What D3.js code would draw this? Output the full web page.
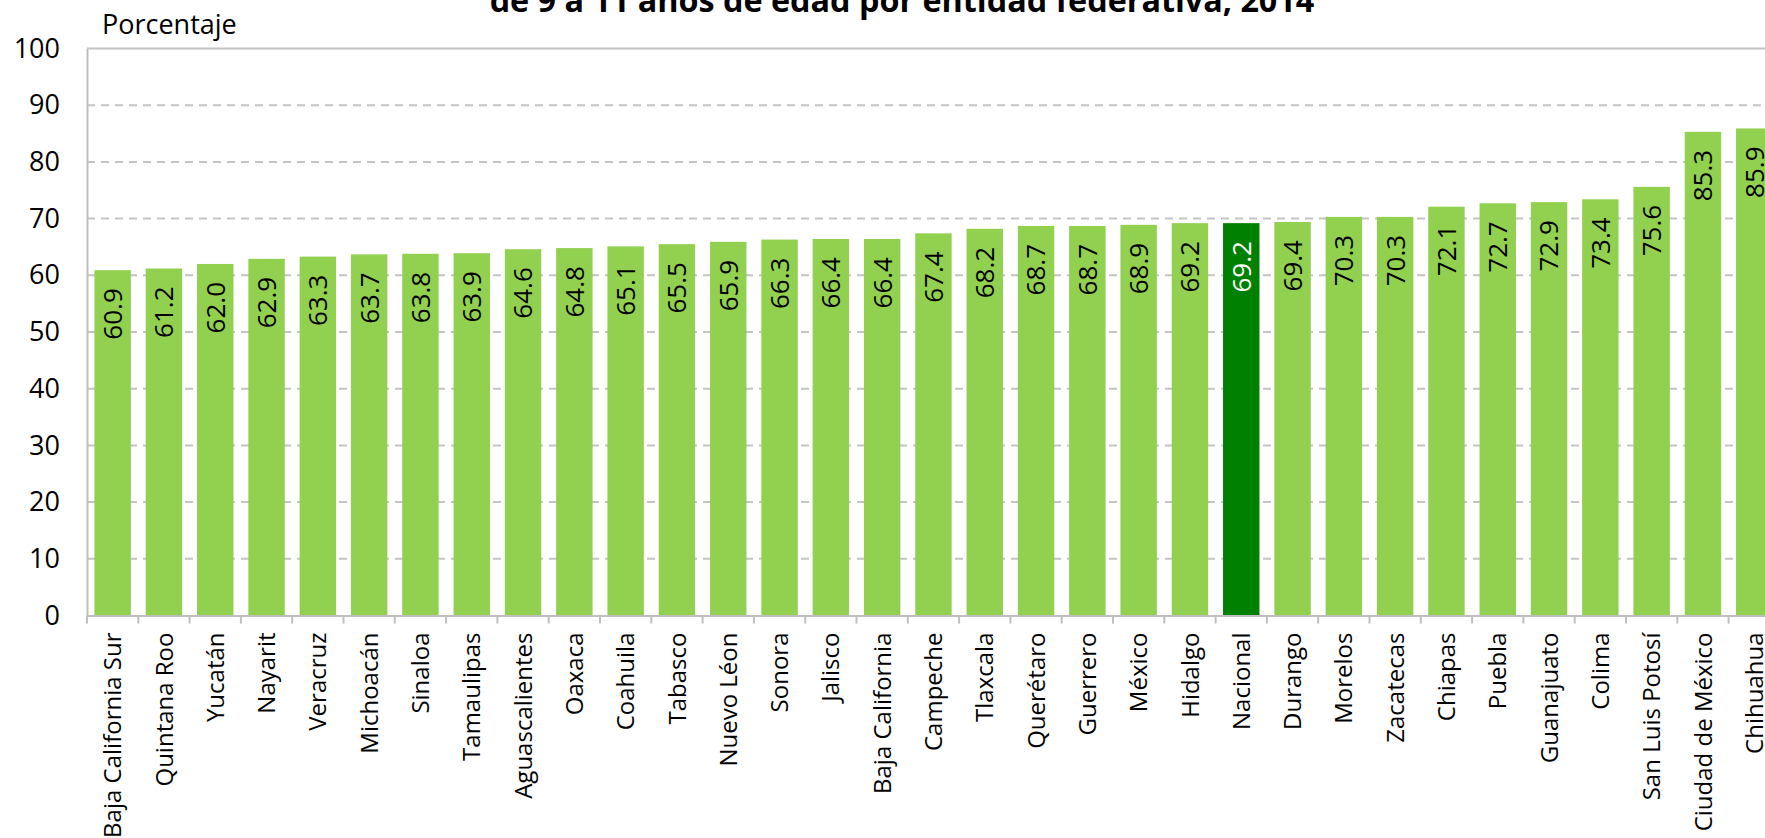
<!DOCTYPE html>
<html>
<head>
<meta charset="utf-8">
<script src="https://cdn.jsdelivr.net/npm/d3@7"></script>
<style>
  html, body { margin: 0; padding: 0; background: #ffffff; overflow: hidden; }
  svg { display: block; }
</style>
</head>
<body>
<svg id="chart" width="1765" height="838"></svg>
<script>
const categories = ["Baja California Sur","Quintana Roo","Yucatán","Nayarit","Veracruz","Michoacán","Sinaloa","Tamaulipas","Aguascalientes","Oaxaca","Coahuila","Tabasco","Nuevo Léon","Sonora","Jalisco","Baja California","Campeche","Tlaxcala","Querétaro","Guerrero","México","Hidalgo","Nacional","Durango","Morelos","Zacatecas","Chiapas","Puebla","Guanajuato","Colima","San Luis Potosí","Ciudad de México","Chihuahua"];
const values = [60.9,61.2,62.0,62.9,63.3,63.7,63.8,63.9,64.6,64.8,65.1,65.5,65.9,66.3,66.4,66.4,67.4,68.2,68.7,68.7,68.9,69.2,69.2,69.4,70.3,70.3,72.1,72.7,72.9,73.4,75.6,85.3,85.9];
const highlight = ["Nacional"];
const yTicks = [0,10,20,30,40,50,60,70,80,90,100];
const titleText = "de 9 a 11 años de edad por entidad federativa, 2014";
const yAxisTitle = "Porcentaje";

const data = categories.map((c, i) => ({ cat: c, val: values[i] }));

const svg = d3.select("#chart");
const font = "'Open Sans', 'DejaVu Sans', sans-serif";

const left = 87, bandStep = 51.3;
const x = d3.scaleBand()
  .domain(categories)
  .range([left, left + bandStep * categories.length])
  .paddingInner(0.29)
  .paddingOuter(0.145);
const y = d3.scaleLinear().domain([0, 100]).range([615.5, 48.5]);

// Gridlines
const plotRight = left + bandStep * categories.length;
svg.append("g").selectAll("line")
  .data(yTicks.filter(t => t > 0))
  .join("line")
  .attr("x1", left).attr("x2", plotRight)
  .attr("y1", d => y(d)).attr("y2", d => y(d))
  .attr("stroke", "#c4c4c4")
  .attr("stroke-width", 2)
  .attr("stroke-dasharray", d => d === 100 ? null : "8,6");

// Bars
svg.append("g").selectAll("rect")
  .data(data)
  .join("rect")
  .attr("x", d => x(d.cat))
  .attr("width", x.bandwidth())
  .attr("y", d => y(d.val))
  .attr("height", d => y(0) - y(d.val))
  .attr("fill", d => highlight.includes(d.cat) ? "#008000" : "#92d050");

// Value labels
svg.append("g").selectAll("text")
  .data(data)
  .join("text")
  .attr("transform", d => `translate(${x(d.cat) + x.bandwidth() / 2},${y(d.val) + 18}) rotate(-90)`)
  .attr("text-anchor", "end")
  .attr("dy", "0.36em")
  .style("font-family", font)
  .style("font-size", "26px")
  .attr("fill", d => highlight.includes(d.cat) ? "#ffffff" : "#000000")
  .text(d => d.val.toFixed(1));

// Y axis
const yAxis = d3.axisLeft(y).tickValues(yTicks).tickSize(0).tickPadding(27);
const gy = svg.append("g").attr("transform", `translate(${left},0)`).call(yAxis);
gy.select(".domain").attr("stroke", "#bfbfbf").attr("stroke-width", 2);
gy.selectAll("text").style("font-family", font).style("font-size", "27px").attr("fill", "#000");

// X axis
const xAxis = d3.axisBottom(x).tickSize(0).tickPadding(0).tickSizeOuter(0);
const gx = svg.append("g").attr("transform", `translate(0,${y(0)})`).call(xAxis);
gx.select(".domain").attr("stroke", "#bfbfbf").attr("stroke-width", 2);
gx.selectAll(".tick text")
  .attr("transform", "translate(0,17) rotate(-90)")
  .attr("text-anchor", "end")
  .attr("x", 0).attr("y", 0)
  .attr("dy", "0.36em")
  .style("font-family", font)
  .style("font-size", "24px")
  .attr("fill", "#000");
// Separator ticks between categories
const sepPositions = d3.range(categories.length + 1).map(i => x.range()[0] + i * x.step());
gx.append("g").selectAll("line")
  .data(sepPositions)
  .join("line")
  .attr("x1", d => d).attr("x2", d => d)
  .attr("y1", 0).attr("y2", 8)
  .attr("stroke", "#bfbfbf").attr("stroke-width", 2);

// Y axis title
svg.append("text")
  .attr("x", 102).attr("y", 34)
  .style("font-family", font)
  .style("font-size", "27px")
  .attr("fill", "#000")
  .text(yAxisTitle);

// Title (top line cropped off in the reference)
const t = svg.append("text")
  .attr("x", 902).attr("y", 12)
  .attr("text-anchor", "middle")
  .style("font-family", font)
  .style("font-weight", "bold")
  .style("font-size", "27px")
  .attr("fill", "#000")
  .text(titleText);
const w = t.node().getComputedTextLength();
t.style("font-size", (27 * 825 / w).toFixed(2) + "px");
</script>
</body>
</html>
